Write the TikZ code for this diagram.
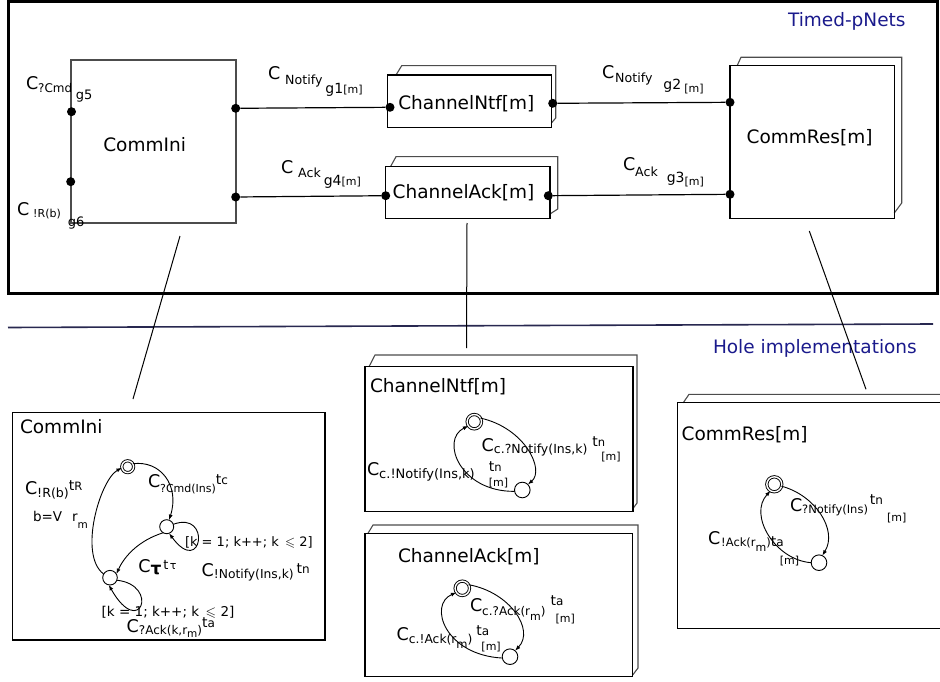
\documentclass[tikz,border=0pt]{standalone}
\usepackage{fontspec}
\setmainfont{DejaVu Sans}
\usepackage{amssymb}
\usetikzlibrary{arrows.meta}
\newcommand\fsz[1]{\fontsize{#1}{#1}\selectfont}
\newcommand\rb[2]{\raisebox{#1}{#2}}
\definecolor{navytxt}{RGB}{26,26,140}
\definecolor{sepline}{RGB}{40,40,80}
\tikzset{
  txt/.style={anchor=base west, inner sep=0pt, outer sep=0pt, font=\fsz{18.5}},
  frame/.style={draw=black, line width=1.3pt},
  back/.style={draw=black!70, line width=1.1pt},
  port/.style={circle, fill=black, inner sep=0pt, minimum size=9pt},
  st/.style={circle, draw, line width=0.9pt, inner sep=0pt, outer sep=0pt, minimum size=#1},
  ini/.style={circle, draw, double, double distance=1.4pt, line width=0.9pt, inner sep=0pt, outer sep=0pt, minimum size=#1},
  tr/.style={line width=0.9pt, -{Latex[length=5.5pt,width=4pt]}},
  link/.style={line width=1.2pt},
}
\begin{document}
\begin{tikzpicture}[x=1pt,y=-1pt]
\useasboundingbox (0,0) rectangle (940,682);

% ---------- upper part: timed pNets ----------
\draw[line width=3pt] (8.7,1.5) rectangle (937.5,293.5);
\node[txt] (tTimed) at (788,26.7) {\color{navytxt}Timed-pNets};

% CommIni
\draw[frame, draw=black!70] (71,60) rectangle (236,223);
\node[txt] (tCommIni) at (103.3,151.7) {CommIni};
% ChannelNtf
\draw[back] (396,75) -- (401.7,65.7) -- (555.7,65.7) -- (555.7,118) -- (551.7,122.7);
\draw[frame] (387.3,75) rectangle (551.7,127.3);
\node[txt] (tNtf) at (398.3,110) {ChannelNtf[m]};
% ChannelAck
\draw[back] (390.7,166.3) -- (396,156.7) -- (557.7,156.7) -- (557.7,209) -- (550,214);
\draw[frame] (385.7,166.3) rectangle (550,218.3);
\node[txt] (tAck) at (392.7,198.3) {ChannelAck[m]};
% CommRes
\draw[back] (737.3,65.3) -- (741,57.3) -- (901.7,57.3) -- (901.7,203) -- (894.3,213);
\draw[frame] (730,65.3) rectangle (894.3,218.3);
\node[txt] (tRes) at (746.7,143.3) {CommRes[m]};

% ports
\node[port] (p1) at (71.5,111.7) {};
\node[port] (p2) at (70.7,181.7) {};
\node[port] (p3) at (235.7,108.3) {};
\node[port] (p4) at (235.7,197) {};
\node[port] (p5) at (390,107.3) {};
\node[port] (p6) at (552.7,103.3) {};
\node[port] (p7) at (385.7,195.7) {};
\node[port] (p8) at (548.3,195.7) {};
\node[port] (p9) at (730,102.3) {};
\node[port] (p10) at (730,194.3) {};

% synchronisation links
\draw[link] (p3) -- (p5);
\draw[link] (p4) -- (p7);
\draw[link] (p6) -- (p9);
\draw[link] (p8) -- (p10);

% link labels
\node[txt] (lg1) at (268,79.3) {{\fsz{17.5}C}\hspace{5pt}\rb{-5pt}{\fsz{12.6}Notify}\hspace{3pt}\rb{-14pt}{\fsz{14}g1\fsz{11}[m]}};
\node[txt] (lg4) at (281,173.3) {{\fsz{17.5}C}\hspace{5pt}\rb{-4pt}{\fsz{12.6}Ack}\hspace{3pt}\rb{-12pt}{\fsz{14}g4\fsz{11}[m]}};
\node[txt] (lg2) at (602,78.3) {{\fsz{17.5}C}\hspace{1pt}\rb{-4.4pt}{\fsz{12.6}Notify}\hspace{11pt}\rb{-11pt}{\fsz{14}g2}\hspace{3pt}\rb{-14pt}{\fsz{11}[m]}};
\node[txt] (lg3) at (623,171) {{\fsz{17.5}C}\rb{-5.7pt}{\fsz{12.6}Ack}\hspace{9pt}\rb{-11.7pt}{\fsz{14}g3}\rb{-15pt}{\fsz{11}[m]}};
\node[txt] (lg5) at (26,89.3) {{\fsz{17.5}C}\rb{-3.7pt}{\fsz{12}?Cmd}\hspace{3.5pt}\rb{-10.7pt}{\fsz{13}g5}};
\node[txt] (lg6) at (17,215) {{\fsz{17.5}C}\hspace{4pt}\rb{-2pt}{\fsz{11}!R(b)}\hspace{7pt}\rb{-11.7pt}{\fsz{13}g6}};

% ---------- separator ----------
\draw[draw=sepline, line width=1.6pt] (8,327.5) -- (933,324);
\node[txt] (tHole) at (713,353.3) {\color{navytxt}Hole implementations};

% pointers from holes to their implementations
\coordinate (c1a) at (180,236);  \coordinate (c1b) at (133,399);
\coordinate (c2a) at (467,223);  \coordinate (c2b) at (466.5,348);
\coordinate (c3a) at (809.3,231); \coordinate (c3b) at (866,389.3);
\draw[link, line width=1pt] (c1a) -- (c1b);
\draw[link, line width=1pt] (c2a) -- (c2b);
\draw[link, line width=1pt] (c3a) -- (c3b);

% ---------- CommIni implementation ----------
\draw[frame, line width=1.4pt] (12.3,412.3) rectangle (325,640);
\node[txt] (iCommIni) at (20,433.3) {CommIni};
\node[ini=11.8pt] (i1) at (127.7,466.7) {};
\node[st=14pt] (s12) at (166.7,526.7) {};
\node[st=14.6pt] (s13) at (110,577.7) {};
\draw[tr] (i1.30) .. controls (160,460) and (180,485) .. (s12.70);
\draw[tr] (s12.20) .. controls (212,510) and (202,578) .. (s12.-70);
\draw[tr] (s12.-120) .. controls (140,540) and (125,555) .. (s13.30);
\draw[tr] (s13.-20) .. controls (160,585) and (140,640) .. (s13.-100);
\draw[tr] (s13.150) .. controls (78,555) and (100,480) .. (i1.190);
\node[txt] (a1) at (25,494) {{\fsz{17.5}C}\rb{-3pt}{\fsz{12.6}!R(b)}\rb{4pt}{\fsz{14}t\fsz{11.5}R}};
\node[txt] (a2) at (33,521.7) {{\fsz{13.5}b=V}\hspace{10pt}{\fsz{13.5}r}\rb{-6.6pt}{\fsz{10.5}m}};
\node[txt] (a3) at (148,487.3) {{\fsz{17.5}C}\rb{-5.3pt}{\fsz{11}?Cmd(Ins)}\rb{2.7pt}{\fsz{14}t\fsz{12}c}};
\node[txt] (a4) at (185,546.7) {\fsz{13}[k = 1; k++; k \,$\leqslant$ 2]};
\node[txt] (a5) at (201.7,576.7) {{\fsz{17.5}C}\rb{-1.7pt}{\fsz{12.3}!Notify(Ins,k)}\hspace{3pt}\rb{3.4pt}{\fsz{14}t\fsz{12}n}};
\node[txt] (a6) at (138.3,572.7) {{\fsz{17.5}C}\rb{-1.6pt}{\fsz{17}\bfseries τ}\hspace{2pt}\rb{3pt}{\fsz{13}t\hspace{1.5pt}\fsz{11}τ}};
\node[txt] (a7) at (101.7,616) {\fsz{13.5}[k = 1; k++; k \,$\leqslant$ 2]};
\node[txt] (a8) at (126.7,632.5) {{\fsz{17.5}C}\rb{-1.6pt}{\fsz{12}?Ack(k,r\rb{-3pt}{\fsz{10.5}m})}\rb{5pt}{\fsz{14}t\fsz{12}a}};

% ---------- ChannelNtf implementation ----------
\draw[back] (369,366.7) -- (375,355) -- (637,355) -- (637,503) -- (633,508.5);
\draw[frame, line width=1.4pt] (365,366.7) rectangle (633,511.7);
\node[txt] (iNtf) at (370,392) {ChannelNtf[m]};
\node[ini=14.4pt] (i2) at (474.3,421.7) {};
\node[st=15.6pt] (s22) at (522.3,490) {};
\draw[tr] (i2.30) .. controls (525,428) and (545,470) .. (s22.45);
\draw[tr] (s22.190) .. controls (460,492) and (440,440) .. (i2.215);
\node[txt] (b1) at (481.7,451.7) {{\fsz{17.5}C}\rb{-1.7pt}{\fsz{12.5}c.?Notify(Ins,k)}\hspace{5pt}\rlap{\rb{5pt}{\fsz{14}t\fsz{11.5}n}}\hspace{9pt}\rb{-9pt}{\fsz{11}[m]}};
\node[txt] (b2) at (367,475) {{\fsz{17.5}C}\rb{-3.3pt}{\fsz{13}c.!Notify(Ins,k)}\hspace{14pt}\rlap{\rb{3.3pt}{\fsz{14}t\fsz{11.5}n}}\rb{-11.7pt}{\fsz{11}[m]}};

% ---------- ChannelAck implementation ----------
\draw[back] (368,533.3) -- (373,525) -- (638,525) -- (638,668) -- (632.7,675);
\draw[frame, line width=1.4pt] (365,533.3) rectangle (632.7,676.7);
\node[txt] (iAck) at (398,562.3) {ChannelAck[m]};
\node[ini=14.4pt] (i3) at (462.3,588.3) {};
\node[st=15.6pt] (s32) at (510,656.7) {};
\draw[tr] (i3.30) .. controls (510,592) and (535,630) .. (s32.50);
\draw[tr] (s32.190) .. controls (445,655) and (428,605) .. (i3.215);
\node[txt] (c1) at (470,611.7) {{\fsz{17.5}C}\rb{-3.3pt}{\fsz{12}c.?Ack(r\rb{-5pt}{\fsz{11}m})}\hspace{5pt}\rlap{\rb{6.7pt}{\fsz{14}t\fsz{12}a}}\hspace{5pt}\rb{-11pt}{\fsz{11}[m]}};
\node[txt] (c2) at (396.7,640.7) {{\fsz{17.5}C}\rb{-2.7pt}{\fsz{12.3}c.!Ack(r\rb{-5pt}{\fsz{11.5}m})}\hspace{4pt}\rlap{\rb{5.7pt}{\fsz{14}t\fsz{12}a}}\hspace{5pt}\rb{-9.3pt}{\fsz{11}[m]}};

% ---------- CommRes implementation ----------
\draw[back] (683.3,402.7) -- (689,394.3) -- (940,394.3);
\draw[frame, line width=1.4pt] (940,402.7) -- (677.3,402.7) -- (677.3,628.3) -- (940,628.3);
\node[txt] (iRes) at (681.7,440) {CommRes[m]};
\node[ini=15pt] (i4) at (774.3,484.3) {};
\node[st=15.6pt] (s42) at (819,562.7) {};
\draw[tr] (i4.-15) .. controls (815,495) and (838,530) .. (s42.65);
\draw[tr] (s42.180) .. controls (775,560) and (748,515) .. (i4.240);
\node[txt] (d1) at (790,511.7) {{\fsz{17.5}C}\rb{-1.7pt}{\fsz{11.5}?Notify(Ins)}\hspace{2pt}\rb{7.7pt}{\fsz{14}t\fsz{12}n}\hspace{4pt}\rb{-9.3pt}{\fsz{11}[m]}};
\node[txt] (d2) at (708,544) {{\fsz{17.5}C}\hspace{1pt}\rb{-2.7pt}{\fsz{11.5}!Ack(r\rb{-5pt}{\fsz{11}m})}\rlap{\rb{-2.7pt}{\fsz{14}t\fsz{12}a}}\hspace{9pt}\rb{-20pt}{\fsz{11}[m]}};

\end{tikzpicture}
\end{document}
